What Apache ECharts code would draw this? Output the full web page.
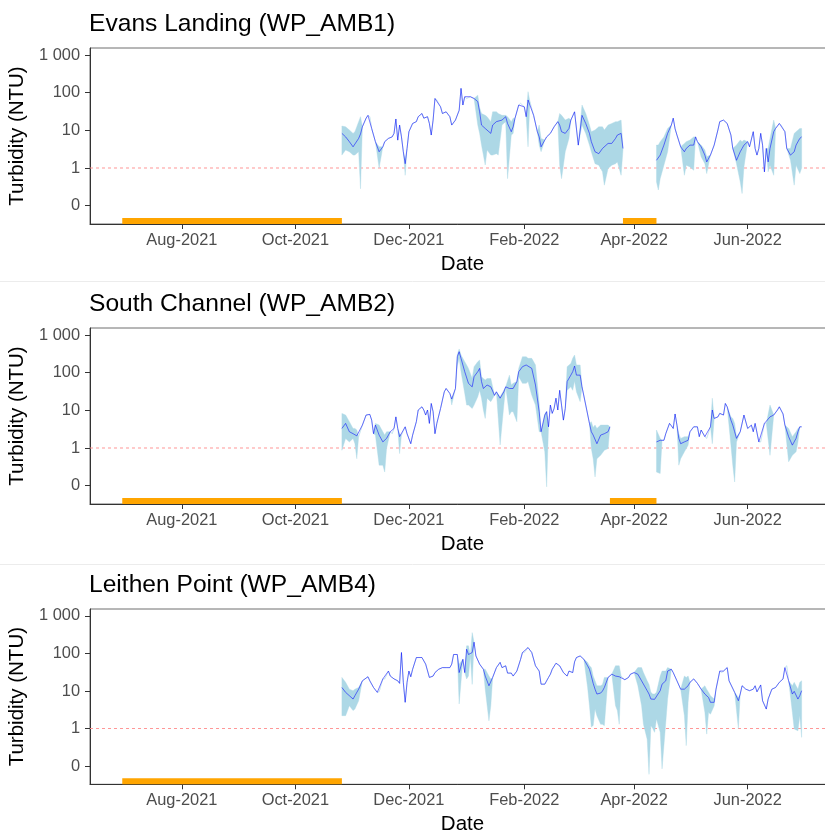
<!DOCTYPE html>
<html><head><meta charset="utf-8">
<script src="https://cdn.jsdelivr.net/npm/echarts@6/dist/echarts.min.js"></script>
<style>html,body{margin:0;padding:0;background:#fff}#c{width:825px;height:831px}</style>
</head><body><div id="c"></div>
<script>
const _ = null;
const stationTitles = ['Evans Landing (WP_AMB1)', 'South Channel (WP_AMB2)', 'Leithen Point (WP_AMB4)'];
const xTickDates = ['2021-08-01', '2021-10-01', '2021-12-01', '2022-02-01', '2022-04-01', '2022-06-01'];
const xTickLabels = ['Aug-2021', 'Oct-2021', 'Dec-2021', 'Feb-2022', 'Apr-2022', 'Jun-2022'];
const yTickValues = [0.1, 1, 10, 100, 1000];
const yTickLabels = ['0', '1', '10', '100', '1 000'];
const refLevel = 1;

// periods without data (orange bars)
const evGaps = [['2021-06-30', '2021-10-26'], ['2022-03-26', '2022-04-13']];
const scGaps = [['2021-06-30', '2021-10-26'], ['2022-03-19', '2022-04-13']];
const lpGaps = [['2021-06-30', '2021-10-26']];

// ---------- Evans Landing (WP_AMB1) ----------
const evDates = [
'2021-10-26','2021-10-28','2021-10-30',
'2021-11-01','2021-11-02','2021-11-04','2021-11-05','2021-11-06','2021-11-08','2021-11-09','2021-11-10','2021-11-11','2021-11-13','2021-11-15','2021-11-17','2021-11-18','2021-11-20','2021-11-22','2021-11-23','2021-11-24','2021-11-25','2021-11-26','2021-11-27','2021-11-28','2021-11-29','2021-11-30',
'2021-12-01','2021-12-03','2021-12-05','2021-12-06','2021-12-08','2021-12-09','2021-12-11','2021-12-12','2021-12-13','2021-12-14','2021-12-15','2021-12-16','2021-12-18','2021-12-19','2021-12-21','2021-12-23','2021-12-24','2021-12-26','2021-12-28','2021-12-29','2021-12-30','2021-12-31',
'2022-01-01','2022-01-03','2022-01-05','2022-01-07','2022-01-08','2022-01-09','2022-01-11','2022-01-12','2022-01-14','2022-01-15','2022-01-17','2022-01-18','2022-01-20','2022-01-22','2022-01-23','2022-01-25','2022-01-26','2022-01-27','2022-01-29','2022-01-30',
'2022-02-01','2022-02-02','2022-02-03','2022-02-04','2022-02-06','2022-02-08','2022-02-09','2022-02-10','2022-02-12','2022-02-13','2022-02-15','2022-02-17','2022-02-19','2022-02-20','2022-02-21','2022-02-23','2022-02-25','2022-02-26','2022-02-28',
'2022-03-02','2022-03-04','2022-03-06','2022-03-08','2022-03-09','2022-03-11','2022-03-13','2022-03-15','2022-03-16','2022-03-18','2022-03-20','2022-03-22','2022-03-23','2022-03-25','2022-03-26',
'2022-04-01','2022-04-13','2022-04-14','2022-04-15','2022-04-17','2022-04-19','2022-04-21','2022-04-22','2022-04-23','2022-04-24','2022-04-26','2022-04-28','2022-04-29',
'2022-05-01','2022-05-03','2022-05-04','2022-05-05','2022-05-07','2022-05-09','2022-05-10','2022-05-12','2022-05-14','2022-05-16','2022-05-17','2022-05-19','2022-05-21','2022-05-23','2022-05-24','2022-05-26','2022-05-28','2022-05-29','2022-05-30',
'2022-06-01','2022-06-02','2022-06-04','2022-06-05','2022-06-06','2022-06-07','2022-06-08','2022-06-09','2022-06-10','2022-06-11','2022-06-12','2022-06-13','2022-06-15','2022-06-16','2022-06-18','2022-06-19','2022-06-21','2022-06-22','2022-06-24','2022-06-26','2022-06-27','2022-06-29','2022-06-30'
];
const evMean = [
8.3,6.7,5.0,
3.65,4.05,6.1,8,12.4,21,25,23,11.2,5.0,2.7,3.65,5.0,6.1,6.7,8.3,20,5.5,13.8,6.7,2.7,1.3,3.3,
9.2,15.2,17,23,28,21,23,15.2,7.5,18.7,70,64,42,28,31,23,13.8,18.7,34,130,47,78,
70,78,70,58,31,13.8,11.2,10.2,8.3,13.8,17,15.2,18.7,23,15.2,9.2,12.4,21,47,52,
42,23,64,58,25,9.2,6.7,3.65,5.5,6.7,8.3,12.4,17,13.8,9.2,8.3,11.2,18.7,31,
4.05,25,15.2,8.3,5.0,2.7,2.4,3.3,3.65,4.5,4.5,6.1,7.5,8.3,3.3,
_,1.6,1.8,2.2,4.05,8.3,13.8,21,11,7.5,3.65,2.7,3.3,
4.05,4.05,6.7,5.0,3.65,2.2,1.45,2.2,4.05,10.2,17,18.7,15.2,7.5,3.3,1.6,2.7,3.3,4.05,
5.0,3.65,9.2,3.3,2.2,3.3,8.3,4.05,0.79,3.3,1.45,3.3,9.2,11.2,15.2,13.8,9.2,3.3,2.2,2.7,4.05,6.1,6.7
];
const evLo = [
2.2,3.0,2.7,
2.2,2.2,2.7,0.28,_,_,_,_,_,_,1.0,_,_,_,_,_,_,_,_,_,_,0.64,_,
_,_,_,_,_,_,_,_,_,_,_,_,_,_,_,_,_,_,_,_,_,_,
_,_,_,13.8,8.3,4.05,1.2,3.0,2.2,2.2,2.4,2.2,13.8,17,0.52,7.5,8.3,_,_,_,
_,_,3.65,_,_,_,4.05,2.7,_,_,_,_,_,1.19,0.52,2.7,6.1,_,_,
_,13.8,8.3,4.05,2.7,1.3,1.19,0.79,0.35,0.97,1.19,1.3,1.45,0.64,3.0,
_,0.43,0.26,0.52,1.19,2.7,_,_,_,_,_,0.64,1.19,
1.07,0.87,_,_,2.0,1.3,0.71,_,_,_,_,_,_,_,_,1.3,0.43,0.21,1.07,
_,_,_,_,_,_,_,_,_,_,0.79,1.19,0.64,_,_,_,_,_,1.6,0.35,1.19,0.71,1.0
];
const evHi = [
13,12.4,10.2,
8.3,9.2,17,23,_,_,_,_,_,_,3.65,_,_,_,_,_,_,_,_,_,_,1.6,_,
_,_,_,_,_,_,_,_,_,_,_,_,_,_,_,_,_,_,_,_,_,_,
_,_,_,86,40,28,25,23,17,31,31,28,25,25,23,17,21,_,_,_,
_,_,106,_,_,_,13.8,6.1,_,_,_,_,_,28,25,18.7,21,_,_,
_,47,28,13.8,9.2,10.2,12.4,12.4,10.2,13.8,15.2,17,17,18.7,3.65,
_,4.05,4.05,5.0,6.7,11.2,_,_,_,_,_,4.5,5.0,
5.5,6.7,_,_,4.05,3.0,2.0,_,_,_,_,_,_,_,_,4.05,5.5,5.0,5.5,
_,_,_,_,_,_,_,_,_,_,3.3,6.1,18.7,_,_,_,_,_,3.3,8.3,9.2,11.2,11.2
];

// ---------- South Channel (WP_AMB2) ----------
const scDates = [
'2021-10-26','2021-10-28','2021-10-30',
'2021-11-01','2021-11-02','2021-11-03','2021-11-04','2021-11-06','2021-11-08','2021-11-10','2021-11-11','2021-11-12','2021-11-13','2021-11-15','2021-11-17','2021-11-18','2021-11-19','2021-11-21','2021-11-22','2021-11-23','2021-11-24','2021-11-25','2021-11-26','2021-11-27','2021-11-29','2021-11-30',
'2021-12-02','2021-12-03','2021-12-05','2021-12-06','2021-12-08','2021-12-09','2021-12-10','2021-12-11','2021-12-12','2021-12-13','2021-12-14','2021-12-15','2021-12-16','2021-12-18','2021-12-20','2021-12-21','2021-12-23','2021-12-24','2021-12-26','2021-12-27','2021-12-28','2021-12-29','2021-12-31',
'2022-01-01','2022-01-02','2022-01-04','2022-01-05','2022-01-07','2022-01-08','2022-01-09','2022-01-10','2022-01-11','2022-01-12','2022-01-14','2022-01-16','2022-01-17','2022-01-19','2022-01-21','2022-01-22','2022-01-24','2022-01-25','2022-01-26','2022-01-28','2022-01-29','2022-01-31',
'2022-02-02','2022-02-03','2022-02-05','2022-02-07','2022-02-09','2022-02-10','2022-02-12','2022-02-13','2022-02-14','2022-02-15','2022-02-16','2022-02-17','2022-02-18','2022-02-19','2022-02-20','2022-02-21','2022-02-22','2022-02-23','2022-02-24','2022-02-26','2022-02-27','2022-02-28',
'2022-03-01','2022-03-03','2022-03-04','2022-03-06','2022-03-08','2022-03-09','2022-03-10','2022-03-11','2022-03-12','2022-03-14','2022-03-16','2022-03-18','2022-03-19',
'2022-04-01','2022-04-13','2022-04-15','2022-04-16','2022-04-17','2022-04-18','2022-04-20','2022-04-21','2022-04-22','2022-04-23','2022-04-24','2022-04-25','2022-04-26','2022-04-28','2022-04-30',
'2022-05-01','2022-05-03','2022-05-05','2022-05-06','2022-05-07','2022-05-09','2022-05-10','2022-05-12','2022-05-13','2022-05-14','2022-05-16','2022-05-17','2022-05-19','2022-05-20','2022-05-21','2022-05-23','2022-05-24','2022-05-25','2022-05-26','2022-05-28','2022-05-30',
'2022-06-01','2022-06-03','2022-06-04','2022-06-05','2022-06-07','2022-06-08','2022-06-10','2022-06-11','2022-06-13','2022-06-15','2022-06-17','2022-06-18','2022-06-20','2022-06-21','2022-06-23','2022-06-25','2022-06-27','2022-06-28','2022-06-29','2022-06-30'
];
const scMean = [
3.3,4.5,2.7,
2.4,2.2,2.1,2.0,4.05,7.5,7.8,5.5,2.4,4.05,2.2,1.45,1.3,1.8,2.7,2.4,3.3,6.7,3.3,2.0,2.2,3.65,2.4,
1.3,2.2,5.0,10.2,12.4,10.2,7.5,10.2,4.5,15.2,9.2,2.4,4.5,11.2,31,38,28,20,38,265,360,240,106,
94,52,42,78,106,130,58,38,42,47,42,25,31,21,31,42,38,34,38,58,106,144,
160,165,130,47,9.2,2.7,7.5,9.2,3.65,13.8,8.3,11.2,21,10.2,34,13.8,5.5,11.2,58,86,106,150,
86,86,42,13.8,4.5,2.7,2.2,2.4,1.3,2.2,2.4,2.7,3.65,
_,1.45,1.6,1.6,1.6,2.4,4.5,4.05,3.3,8.0,4.05,1.8,1.3,1.45,1.6,
2.7,3.65,3.65,2.0,3.0,2.0,1.8,3.65,10.2,6.1,6.7,8.3,7.5,15.2,12.4,5.5,4.05,2.7,1.8,2.7,7.5,
3.3,4.05,2.7,4.5,1.45,1.45,4.5,4.5,6.7,7.5,10.2,12.4,8.0,4.05,2.0,1.19,1.8,2.7,3.65,3.65
];
const scLo = [
0.87,1.8,1.45,
1.8,1.3,0.52,_,_,_,_,_,_,2.2,0.35,0.35,0.23,0.97,_,_,_,_,_,0.71,_,_,_,
_,_,_,_,_,_,_,_,_,_,_,_,_,_,_,_,_,13.8,_,150,240,106,28,
13.8,13.8,11.2,13.8,23,34,21,10.2,6.1,21,17,_,_,1.2,13.8,_,7.5,9.2,9.2,5.0,78,52,
52,58,25,13.8,2.7,_,0.79,0.093,_,_,_,_,_,_,_,_,_,_,34,42,34,60,
31,17,_,_,_,0.97,0.52,0.17,0.52,0.64,0.87,0.97,_,
_,0.23,0.21,_,_,_,_,_,_,_,_,0.35,0.52,0.79,1.19,
_,_,_,_,_,_,_,_,1.3,_,_,_,_,_,_,1.19,0.35,0.125,1.45,_,_,
_,_,_,_,_,_,_,_,0.64,_,_,_,_,_,0.43,0.64,0.79,1.45,_,_
];
const scHi = [
8.3,7.5,5.0,
3.3,3.3,3.0,_,_,_,_,_,_,4.5,4.05,2.7,2.2,2.7,_,_,_,_,_,2.4,_,_,_,
_,_,_,_,_,_,_,_,_,_,_,_,_,_,_,_,_,20,_,300,426,294,195,
160,130,70,144,195,216,78,70,64,70,70,_,_,23,34,_,86,47,52,58,130,265,
265,240,240,160,15.2,_,8,9.5,_,_,_,_,_,_,_,_,_,_,144,176,240,294,
160,160,_,_,_,5.0,3.5,4.05,3.3,4.05,4.05,4.05,_,
_,3.0,1.8,_,_,_,_,_,_,_,_,2.4,1.8,2.0,2.0,
_,_,_,_,_,_,_,_,21,_,_,_,_,_,_,6.7,6.1,4.5,2.0,_,_,
_,_,_,_,_,_,_,_,13.8,_,_,_,_,_,3.3,2.0,2.7,3.3,_,_
];

// ---------- Leithen Point (WP_AMB4) ----------
const lpDates = [
'2021-10-26','2021-10-28','2021-10-30',
'2021-11-01','2021-11-02','2021-11-04','2021-11-06','2021-11-09','2021-11-10','2021-11-12','2021-11-14','2021-11-15','2021-11-17','2021-11-18','2021-11-20','2021-11-21','2021-11-23','2021-11-25','2021-11-26','2021-11-27','2021-11-28','2021-11-29','2021-11-30',
'2021-12-01','2021-12-02','2021-12-03','2021-12-05','2021-12-08','2021-12-10','2021-12-12','2021-12-14','2021-12-15','2021-12-17','2021-12-19','2021-12-21','2021-12-23','2021-12-24','2021-12-25','2021-12-27','2021-12-28','2021-12-30','2021-12-31',
'2022-01-01','2022-01-02','2022-01-03','2022-01-04','2022-01-05','2022-01-06','2022-01-08','2022-01-10','2022-01-11','2022-01-13','2022-01-14','2022-01-15','2022-01-17','2022-01-19','2022-01-20','2022-01-22','2022-01-23','2022-01-25','2022-01-26','2022-01-28','2022-01-30','2022-01-31',
'2022-02-01','2022-02-03','2022-02-05','2022-02-07','2022-02-09','2022-02-10','2022-02-12','2022-02-14','2022-02-15','2022-02-16','2022-02-18','2022-02-20','2022-02-22','2022-02-24','2022-02-25','2022-02-27','2022-02-28',
'2022-03-01','2022-03-03','2022-03-05','2022-03-07','2022-03-08','2022-03-09','2022-03-10','2022-03-11','2022-03-12','2022-03-14','2022-03-15','2022-03-16','2022-03-18','2022-03-20','2022-03-22','2022-03-23','2022-03-24','2022-03-25','2022-03-27','2022-03-29','2022-03-30',
'2022-04-01','2022-04-03','2022-04-05','2022-04-06','2022-04-08','2022-04-09','2022-04-10','2022-04-11','2022-04-12','2022-04-13','2022-04-15','2022-04-16','2022-04-18','2022-04-19','2022-04-21','2022-04-22','2022-04-24','2022-04-26','2022-04-28','2022-04-29','2022-04-30',
'2022-05-01','2022-05-03','2022-05-05','2022-05-07','2022-05-09','2022-05-10','2022-05-11','2022-05-12','2022-05-14','2022-05-15','2022-05-17','2022-05-18','2022-05-19','2022-05-20','2022-05-21','2022-05-22','2022-05-25','2022-05-27','2022-05-28','2022-05-29','2022-05-31',
'2022-06-02','2022-06-04','2022-06-05','2022-06-06','2022-06-08','2022-06-09','2022-06-11','2022-06-12','2022-06-14','2022-06-16','2022-06-18','2022-06-20','2022-06-21','2022-06-22','2022-06-23','2022-06-25','2022-06-26','2022-06-28','2022-06-29','2022-06-30'
];
const lpMean = [
12.4,9.2,7.5,
6.1,7.5,11.2,18.7,24,18.7,12.4,9.2,9.5,21,21,34,25,21,18.7,16,106,17,5.0,17,
34,24,38,78,78,52,23,25,31,38,42,42,42,52,94,94,31,70,31,
130,94,86,106,200,86,52,38,25,13.8,12.4,23,42,58,42,47,30,30,25,34,70,106,
106,144,106,47,34,15.2,15.2,23,28,38,55,47,31,25,34,31,60,
78,86,70,47,38,25,16,11.2,8.3,8.8,10,12.4,23,28,25,24,24,25,20,23,28,
31,28,18.7,17,10.2,8.3,6.1,5.5,6,6.7,10.2,15.2,18.7,34,38,31,18.7,11.2,11.2,12,13.8,
17,21,16,11.2,8.3,7.5,6.7,5.0,5.0,11.2,34,31,34,38,42,18.7,9.2,5.5,8.3,13.8,11.2,
10.2,11.2,13.8,9.5,14.5,5.5,3.3,6.1,11.2,12.4,17,21,42,47,18.7,8.3,9.8,6.1,7.5,10.2
];
const lpLo = [
2.2,2.2,4.05,
3.0,3.3,5.5,_,_,_,_,_,_,_,_,_,_,_,_,_,_,_,_,_,
_,_,_,_,_,_,_,_,_,_,_,_,_,_,_,_,4.5,_,_,
21,25,_,15,_,_,_,_,11.2,1.6,4.05,_,_,_,_,_,_,_,_,_,_,_,
_,_,_,_,_,_,_,_,_,_,_,_,_,_,_,_,_,
_,_,_,12.4,4.05,1.1,1.2,3.3,2.2,1.3,1.3,1.19,_,_,4.05,3.0,1.3,_,_,_,_,
_,13.8,4.05,1.3,0.52,0.06,1.19,1.0,0.79,1.8,0.79,0.084,1.45,6.1,_,_,_,_,2.2,0.35,5.0,
_,_,_,_,2.7,0.71,2.7,2.4,4.05,_,_,_,_,_,_,_,_,1.0,_,_,_,
_,_,_,_,_,_,_,_,_,_,_,_,_,_,_,2.7,0.97,0.87,2.2,0.58
];
const lpHi = [
23,17,11.2,
10.2,11.2,12.4,_,_,_,_,_,_,_,_,_,_,_,_,_,_,_,_,_,
_,_,_,_,_,_,_,_,_,_,_,_,_,_,_,_,52,_,_,
160,160,_,360,_,_,_,_,38,25,21,_,_,_,_,_,_,_,_,_,_,_,
_,_,_,_,_,_,_,_,_,_,_,_,_,_,_,_,_,
_,_,_,58,47,42,25,18.7,13.8,13.8,15,23,_,_,47,47,47,_,_,_,_,
_,42,42,31,18.7,15,9.2,8.3,8.3,9.2,25,34,34,42,_,_,_,_,25,23,25,
_,_,_,_,13.8,11,9.2,7.5,6.1,_,_,_,_,_,_,_,_,6.7,_,_,_,
_,_,_,_,_,_,_,_,_,_,_,_,_,_,_,13.8,17,11.2,17,18.7
];

// ---------- layout / style ----------
const FONT = "'Liberation Sans', Arial, Helvetica, sans-serif";
const GRID_TOPS = [48, 328, 609];
const GRID_H = [176, 176, 175.3];
const TITLE_TOPS = [12, 292, 572.5];
const Y_MIN = -1.487, Y_MAX = 3.186;     // log10 axis extent
const GAP_Y = -1.407;                      // vertical position of the no-data bars (log10 units)
const X_MIN = '2021-06-12 16:00', X_MAX = '2022-07-17 22:00';

const panels = [
  {title: stationTitles[0], dates: evDates, mean: evMean, lo: evLo, hi: evHi, gaps: evGaps},
  {title: stationTitles[1], dates: scDates, mean: scMean, lo: scLo, hi: scHi, gaps: scGaps},
  {title: stationTitles[2], dates: lpDates, mean: lpMean, lo: lpLo, hi: lpHi, gaps: lpGaps}
];

const L = v => Math.log10(v);
const P = s => echarts.time.parse(s).getTime();
const xTickTs = xTickDates.map(P);
const yTickPos = yTickValues.map(L);
const xMinTs = P(X_MIN), xMaxTs = P(X_MAX);
const problems = [];

const grids = [], xAxes = [], yAxes = [], series = [], titles = [];
panels.forEach((p, i) => {
  const n = p.dates.length;
  if (p.mean.length !== n || p.lo.length !== n || p.hi.length !== n)
    problems.push(i + ': ' + n + '/' + p.mean.length + '/' + p.lo.length + '/' + p.hi.length);
  grids.push({left: 90, right: -10, top: GRID_TOPS[i], height: GRID_H[i], show: true,
    borderColor: '#6e6e6e', borderWidth: 1, backgroundColor: 'transparent', containLabel: false, outerBoundsMode: 'none'});
  titles.push({text: p.title, left: 89, top: TITLE_TOPS[i], padding: 0,
    textStyle: {fontFamily: FONT, fontSize: 24.6, fontWeight: 'normal', color: '#000'}});
  xAxes.push({type: 'value', gridIndex: i, min: xMinTs, max: xMaxTs, scale: true,
    axisLine: {show: true, onZero: false, lineStyle: {color: '#333', width: 1}},
    axisTick: {show: true, length: 5, customValues: xTickTs, lineStyle: {color: '#333'}},
    axisLabel: {customValues: xTickTs, margin: 8, color: '#4d4d4d', fontSize: 16.4, fontFamily: FONT,
      formatter: v => { const k = xTickTs.findIndex(t => Math.abs(t - v) < 43200000); return k >= 0 ? xTickLabels[k] : ''; }},
    splitLine: {show: false},
    name: 'Date', nameLocation: 'middle', nameGap: 30,
    nameTextStyle: {fontFamily: FONT, fontSize: 20.5, color: '#000'}});
  yAxes.push({type: 'value', gridIndex: i, min: Y_MIN, max: Y_MAX,
    axisLine: {show: true, onZero: false, lineStyle: {color: '#333', width: 1}},
    axisTick: {show: true, length: 5, customValues: yTickPos, lineStyle: {color: '#333'}},
    axisLabel: {customValues: yTickPos, margin: 10, color: '#4d4d4d', fontSize: 16.4, fontFamily: FONT,
      formatter: v => { const k = yTickPos.findIndex(t => Math.abs(t - v) < 1e-6); return k >= 0 ? yTickLabels[k] : ''; }},
    splitLine: {show: false},
    name: 'Turbidity (NTU)', nameLocation: 'middle', nameGap: 45,
    nameTextStyle: {fontFamily: FONT, fontSize: 20.5, color: '#000'}});

  // band rows: [x, log lo, log hi]; mean line rows: [x, log mean]
  const band = [], line = [];
  for (let k = 0; k < n; k++) {
    const d = P(p.dates[k]), m = p.mean[k];
    if (m == null) { band.push(null); line.push([d, '-']); continue; }
    const lo = p.lo[k] == null ? m : p.lo[k];
    const hi = p.hi[k] == null ? m : p.hi[k];
    band.push([d, L(lo), L(hi)]); line.push([d, L(m)]);
  }
  // split band into continuous runs
  const runs = []; let cur = [];
  band.forEach(r => { if (r == null) { if (cur.length) runs.push(cur); cur = []; } else cur.push(r); });
  if (cur.length) runs.push(cur);

  const common = {xAxisIndex: i, yAxisIndex: i, silent: true, animation: false};
  series.push(Object.assign({type: 'line', z: 1, symbol: 'none', data: [[xMinTs, L(refLevel)], [xMaxTs, L(refLevel)]],
    lineStyle: {color: '#ff8c8c', width: 0.9, type: [3, 3]}}, common));
  series.push(Object.assign({type: 'custom', z: 2, data: band.filter(r => r),
    renderItem: (params, api) => {
      if (params.dataIndex !== 0) return null;
      const children = runs.map(run => {
        const top = run.map(r => api.coord([r[0], r[2]]));
        const bot = run.slice().reverse().map(r => api.coord([r[0], r[1]]));
        return {type: 'polygon', shape: {points: top.concat(bot)}, style: {fill: '#add8e6', stroke: '#add8e6', lineWidth: 0.4}};
      });
      return {type: 'group', children: children};
    }}, common));
  series.push(Object.assign({type: 'line', z: 3, symbol: 'none', data: line,
    lineStyle: {color: 'rgba(0,0,255,0.6)', width: 0.9}}, common));
  p.gaps.forEach(g => {
    series.push(Object.assign({type: 'line', z: 4, symbol: 'none', data: [[P(g[0]), GAP_Y], [P(g[1]), GAP_Y]],
      lineStyle: {color: '#ffa500', width: 6, cap: 'butt'}}, common));
  });
});

const option = {
  animation: false,
  backgroundColor: '#ffffff',
  title: titles,
  grid: grids, xAxis: xAxes, yAxis: yAxes, series: series,
  graphic: [
    {type: 'line', shape: {x1: 0, y1: 281.5, x2: 825, y2: 281.5}, style: {stroke: '#ececec', lineWidth: 1}, silent: true},
    {type: 'line', shape: {x1: 0, y1: 564.5, x2: 825, y2: 564.5}, style: {stroke: '#ececec', lineWidth: 1}, silent: true}
  ].concat(problems.length ? [{type: 'text', left: 300, top: 5, style: {text: 'LEN MISMATCH ' + problems.join(' | '), fill: 'red', fontSize: 14}}] : [])
};
const chart = echarts.init(document.getElementById('c'), null, {renderer: 'canvas', width: 825, height: 831});
chart.setOption(option);
</script>
</body></html>
